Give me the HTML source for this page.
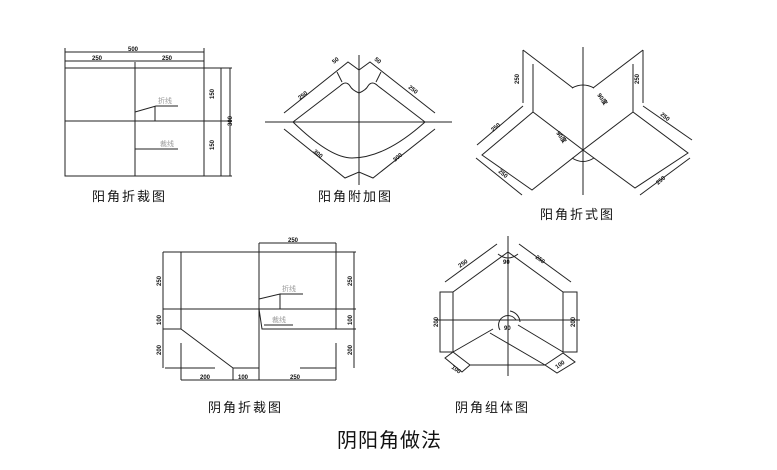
<!DOCTYPE html>
<html><head><meta charset="utf-8"><style>
html,body{margin:0;padding:0;background:#fff;width:777px;height:470px;overflow:hidden}
svg{display:block}
text{font-family:"Liberation Sans","Noto Sans CJK SC",sans-serif}
.c{font-size:13px;fill:#111;letter-spacing:2px}
.d{font-size:6px;fill:#111;font-weight:bold}
.g{font-size:7px;fill:#999}
</style></head><body>
<svg width="777" height="470" viewBox="0 0 777 470" fill="none" stroke="#222" stroke-width="1">
<!-- Diagram 1 -->
<rect x="65" y="68" width="139" height="108"/>
<line x1="135" y1="62" x2="135" y2="176"/>
<line x1="65" y1="121" x2="232" y2="121"/>
<line x1="65" y1="52" x2="204" y2="52"/><line x1="65" y1="61" x2="204" y2="61"/>
<line x1="65" y1="48" x2="65" y2="68"/><line x1="204" y1="48" x2="204" y2="68"/>
<line x1="204" y1="68" x2="232" y2="68"/><line x1="204" y1="176" x2="232" y2="176"/>
<line x1="221" y1="68" x2="221" y2="176"/><line x1="230" y1="68" x2="230" y2="176"/>
<polyline points="135,112 156,106 178,106"/><line x1="155" y1="106" x2="155" y2="121"/>
<line x1="135" y1="149" x2="178" y2="149"/>
<g stroke="none"><text class="d" x="128" y="51">500</text><text class="d" x="92" y="60">250</text><text class="d" x="162" y="60">250</text>
<text class="d" x="214" y="99" transform="rotate(-90 214 99)">150</text><text class="d" x="214" y="150" transform="rotate(-90 214 150)">150</text><text class="d" x="232" y="126" transform="rotate(-90 232 126)">300</text>
<text class="g" x="158" y="103">折线</text><text class="g" x="160" y="146">裁线</text>
<text class="c" x="92" y="201">阳角折裁图</text></g>
<!-- Diagram 2 -->
<line x1="359" y1="55" x2="359" y2="185"/><line x1="265" y1="122" x2="452" y2="122"/>
<polyline points="293,122 340,86"/><path d="M340,86 Q346,80 350,86 Q352,90 359,93 Q366,90 368,86 Q372,80 378,86"/><polyline points="378,86 425,122"/>
<polyline points="284,113 348,62 359,70 370,62 435,113"/>
<line x1="337" y1="72" x2="342" y2="82"/><line x1="381" y1="72" x2="376" y2="82"/>
<path d="M293,122 Q330,158 352,158 Q385,158 425,122"/>
<polyline points="284,129 345,178 359,172 373,178 435,129"/>
<g stroke="none"><text class="d" x="300" y="100" transform="rotate(-38 300 100)">250</text><text class="d" x="408" y="88" transform="rotate(38 408 88)">250</text>
<text class="d" x="334" y="64" transform="rotate(-38 334 64)">50</text><text class="d" x="374" y="60" transform="rotate(38 374 60)">50</text>
<text class="d" x="313" y="152" transform="rotate(40 313 152)">300</text><text class="d" x="395" y="162" transform="rotate(-40 395 162)">300</text>
<text class="c" x="318" y="201">阳角附加图</text></g>
<!-- Diagram 3 -->
<line x1="583" y1="47" x2="583" y2="195"/>
<line x1="523" y1="50" x2="523" y2="103"/><line x1="533" y1="64" x2="533" y2="112"/>
<line x1="523" y1="50" x2="573" y2="88"/>
<line x1="643" y1="50" x2="643" y2="103"/><line x1="633" y1="64" x2="633" y2="112"/>
<line x1="643" y1="50" x2="593" y2="88"/>
<polygon points="533,112 583,150 532,190 482,155"/>
<polygon points="633,112 583,150 635,188 688,153"/>
<polyline points="523,106 477,145"/><polyline points="476,158 522,195"/>
<polyline points="643,106 692,140"/><polyline points="690,158 640,195"/>
<path d="M572,88 Q583,82 594,88"/><path d="M572,158 Q583,165 594,158"/>
<g stroke="none"><text class="d" x="519" y="84" transform="rotate(-90 519 84)">250</text><text class="d" x="639" y="84" transform="rotate(-90 639 84)">250</text>
<text class="d" x="493" y="132" transform="rotate(-40 493 132)">250</text><text class="d" x="498" y="172" transform="rotate(40 498 172)">250</text>
<text class="d" x="660" y="115" transform="rotate(40 660 115)">250</text><text class="d" x="658" y="185" transform="rotate(-40 658 185)">250</text>
<text class="d" x="597" y="95" transform="rotate(55 597 95)">90度</text><text class="d" x="556" y="133" transform="rotate(55 556 133)">90度</text>
<text class="c" x="540" y="219">阳角折式图</text></g>
<!-- Diagram 4 -->
<line x1="181" y1="252" x2="181" y2="329"/><line x1="181" y1="343" x2="181" y2="380"/>
<line x1="259" y1="243" x2="259" y2="380"/><line x1="336" y1="243" x2="336" y2="329"/><line x1="336" y1="343" x2="336" y2="380"/>
<line x1="163" y1="252" x2="356" y2="252"/>
<line x1="163" y1="309" x2="356" y2="309"/>
<line x1="163" y1="329" x2="181" y2="329"/><line x1="264" y1="329" x2="356" y2="329"/>
<line x1="181" y1="329" x2="233" y2="368"/>
<line x1="165" y1="368" x2="215" y2="368"/><line x1="233" y1="368" x2="259" y2="368"/><line x1="300" y1="368" x2="336" y2="368"/>
<line x1="233" y1="368" x2="233" y2="380"/>
<line x1="163" y1="252" x2="163" y2="368"/><line x1="354" y1="252" x2="354" y2="368"/>
<line x1="259" y1="243" x2="336" y2="243"/>
<line x1="181" y1="380" x2="336" y2="380"/>
<polyline points="259,299 280,294 280,309"/><line x1="280" y1="294" x2="303" y2="294"/>
<polyline points="259,309 262,329 264,329"/><line x1="264" y1="325" x2="293" y2="325"/>
<g stroke="none"><text class="d" x="288" y="242">250</text><text class="d" x="200" y="379">200</text><text class="d" x="238" y="379">100</text><text class="d" x="290" y="379">250</text>
<text class="d" x="161" y="286" transform="rotate(-90 161 286)">250</text><text class="d" x="161" y="325" transform="rotate(-90 161 325)">100</text><text class="d" x="161" y="355" transform="rotate(-90 161 355)">200</text>
<text class="d" x="352" y="286" transform="rotate(-90 352 286)">250</text><text class="d" x="352" y="325" transform="rotate(-90 352 325)">100</text><text class="d" x="352" y="355" transform="rotate(-90 352 355)">200</text>
<text class="g" x="282" y="291">折线</text><text class="g" x="272" y="322">裁线</text>
<text class="c" x="208" y="412">阴角折裁图</text></g>
<!-- Diagram 5 -->
<line x1="508" y1="236" x2="508" y2="376"/><line x1="436" y1="320" x2="580" y2="320"/>
<polyline points="453,292 508,252 563,292"/>
<polyline points="445,282 497,244"/><polyline points="519,244 571,282"/>
<rect x="440" y="292" width="13" height="60"/><rect x="563" y="292" width="14" height="60"/>
<line x1="453" y1="352" x2="493" y2="329"/><line x1="518" y1="325" x2="563" y2="352"/>
<line x1="490" y1="333" x2="545" y2="365"/>
<line x1="470" y1="365" x2="545" y2="365"/>
<polygon points="445,358 453,352 470,365 462,372"/>
<polygon points="545,365 563,353 575,362 557,373"/>
<path d="M498,254 Q508,262 518,254"/><path d="M500,330 A9,9 0 1 1 516,320"/><path d="M510,311 A12,12 0 0 1 520,322"/>
<g stroke="none"><text class="d" x="460" y="268" transform="rotate(-36 460 268)">250</text><text class="d" x="535" y="258" transform="rotate(36 535 258)">250</text>
<text class="d" x="503" y="264">90</text><text class="d" x="504" y="330">90</text>
<text class="d" x="438" y="327" transform="rotate(-90 438 327)">200</text><text class="d" x="575" y="327" transform="rotate(-90 575 327)">200</text>
<text class="d" x="451" y="368" transform="rotate(36 451 368)">100</text><text class="d" x="557" y="369" transform="rotate(-36 557 369)">100</text>
<text class="c" x="455" y="412">阴角组体图</text></g>
<text x="337" y="447" stroke="none" fill="#111" style="font-size:20px;letter-spacing:1px">阴阳角做法</text>
</svg>
</body></html>
